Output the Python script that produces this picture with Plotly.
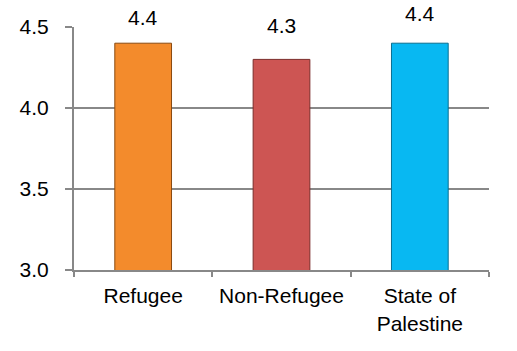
import plotly.graph_objects as go

categories = ["Refugee", "Non-Refugee", "State of<br>Palestine"]
values = [4.4, 4.3, 4.4]
value_labels = ["4.4", "4.3", "4.4"]
y_ticks = [3.0, 3.5, 4.0, 4.5]
y_tick_labels = ["3.0", "3.5", "4.0", "4.5"]

bar_colors = ["#F38B2C", "#CD5553", "#08B8F2"]
edge_colors = ["#8A4A10", "#7A2C2A", "#0A6E90"]
label_offsets = [12, 20, 16]

fig = go.Figure()
fig.add_trace(go.Bar(
    x=categories, y=values, base=0,
    marker=dict(color=bar_colors, line=dict(color=edge_colors, width=1)),
    width=0.41, showlegend=False, hoverinfo="skip",
))

for c, v, t, off in zip(categories, values, value_labels, label_offsets):
    fig.add_annotation(x=c, y=v, text=t, showarrow=False, yanchor="bottom",
                       yshift=off, font=dict(size=21, color="black"))

fig.update_layout(
    width=517, height=351,
    margin=dict(l=74, r=28, t=27, b=81),
    plot_bgcolor="white", paper_bgcolor="white",
    font=dict(family="Liberation Sans, Arial, sans-serif", size=21, color="black"),
    bargap=0.59,
)
fig.update_yaxes(
    range=[3.0, 4.5], tickvals=y_ticks, ticktext=y_tick_labels,
    showgrid=True, gridcolor="#888888", gridwidth=2,
    showline=True, linecolor="#888888", linewidth=2,
    ticks="outside", ticklen=7, tickcolor="#888888", tickwidth=2,
    ticklabelstandoff=12, zeroline=False,
)
fig.update_xaxes(
    showline=True, linecolor="#888888", linewidth=2,
    ticks="outside", ticklen=5, tickcolor="#888888", tickwidth=2,
    tickson="boundaries", ticklabelstandoff=6,
)
fig.write_html("out.html")
